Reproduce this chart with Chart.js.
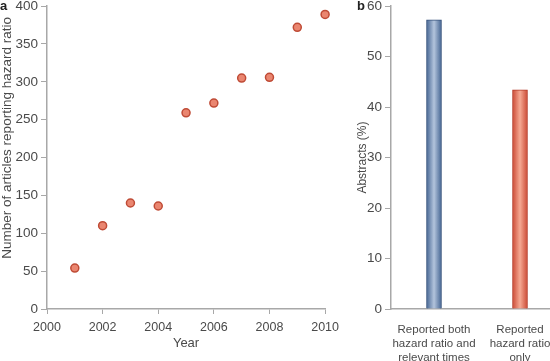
<!DOCTYPE html>
<html>
<head>
<meta charset="utf-8">
<script src="https://cdn.jsdelivr.net/npm/chart.js@4"></script>
<style>
  html, body { margin: 0; padding: 0; background: #fff; overflow: hidden; }
  body { width: 550px; height: 361px; position: relative; font-family: "Liberation Sans", Arial, sans-serif; }
  .wrap { position: absolute; top: -5px; height: 366px; }
  .panel { position: absolute; top: -2px; font-weight: bold; font-size: 13px; color: #222; }
</style>
</head>
<body>
<div class="wrap" style="left:0;width:345px"><canvas id="chartA"></canvas></div>
<div class="wrap" style="left:355px;width:208px"><canvas id="chartB"></canvas></div>
<div class="panel" style="left:0px">a</div>
<div class="panel" style="left:357px">b</div>
<script>
// panel a: articles reporting hazard ratio per year
const years = [2001, 2002, 2003, 2004, 2005, 2006, 2007, 2008, 2009, 2010];
const articles = [54, 110, 140, 136, 259, 272, 305, 306, 372, 389];

// panel b: abstracts (%)
const abstractLabels = [
  ['Reported both', 'hazard ratio and', 'relevant times'],
  ['Reported', 'hazard ratio', 'only']
];
const abstractValues = [57.3, 43.4];

const axisColor = '#a8a8a8';
const textColor = '#4a4a4a';
Chart.defaults.font.family = '"Liberation Sans", Arial, sans-serif';
Chart.defaults.font.size = 13;
Chart.defaults.color = textColor;

// y title of panel a sits a bit above the axis middle, so draw it by hand
const sideTitle = {
  id: 'sideTitle',
  afterDraw(chart, args, opts) {
    if (!opts.text) return;
    const c = chart.ctx;
    const area = chart.chartArea;
    c.save();
    c.font = opts.size + 'px "Liberation Sans", Arial, sans-serif';
    c.fillStyle = textColor;
    c.textAlign = 'center';
    c.textBaseline = 'middle';
    c.translate(opts.x, area.top + (area.bottom - area.top) * opts.pos);
    c.rotate(-Math.PI / 2);
    c.fillText(opts.text, 0, 0);
    c.restore();
  }
};

const ctxA = document.getElementById('chartA').getContext('2d');
const chartA = new Chart(ctxA, {
  type: 'scatter',
  data: {
    datasets: [{
      data: years.map((y, i) => ({ x: y, y: articles[i] })),
      backgroundColor: '#ea8670',
      borderColor: '#bf4b36',
      borderWidth: 1.5,
      pointRadius: 4,
      pointHoverRadius: 4,
      clip: false
    }]
  },
  plugins: [sideTitle],
  options: {
    responsive: true,
    maintainAspectRatio: false,
    animation: false,
    layout: { padding: { top: 0, right: 18, left: 0, bottom: 6 } },
    plugins: {
      legend: { display: false },
      tooltip: { enabled: false },
      sideTitle: { text: 'Number of articles reporting hazard ratio', size: 13.5, x: 7, pos: 0.435 }
    },
    scales: {
      x: {
        type: 'linear',
        min: 2000,
        max: 2010,
        ticks: { stepSize: 2, padding: 6, color: textColor, font: { size: 12.5 }, callback: v => String(v) },
        grid: { drawOnChartArea: false, drawTicks: true, tickLength: 5, color: axisColor },
        border: { color: axisColor, width: 1.5 },
        title: { display: true, text: 'Year', color: textColor, padding: { top: 0 } },
        afterFit: s => { s.height = 46; }
      },
      y: {
        min: 0,
        max: 400,
        ticks: { stepSize: 50, padding: 3, color: textColor, font: { size: 13.5 } },
        grid: { drawOnChartArea: false, drawTicks: true, tickLength: 6, color: axisColor },
        border: { color: axisColor, width: 1.5 },
        afterFit: s => { s.width = 47; }
      }
    }
  }
});

function barGradient(ctx, edge, mid) {
  const chart = ctx.chart;
  const xs = chart.scales.x;
  if (!xs) return edge;
  const cx = xs.getPixelForValue(ctx.dataIndex);
  if (!isFinite(cx)) return edge;
  const g = chart.ctx.createLinearGradient(cx - 8, 0, cx + 8, 0);
  g.addColorStop(0, edge);
  g.addColorStop(0.5, mid);
  g.addColorStop(1, edge);
  return g;
}

const barEdges = ['#3e5f8e', '#c9442f'];
const barMids = ['#b3c4dc', '#f5a993'];

const ctxB = document.getElementById('chartB').getContext('2d');
const chartB = new Chart(ctxB, {
  type: 'bar',
  data: {
    labels: abstractLabels,
    datasets: [{
      data: abstractValues,
      backgroundColor: c => barGradient(c, barEdges[c.dataIndex], barMids[c.dataIndex]),
      borderColor: ['#36527b', '#b23b28'],
      borderWidth: 1,
      borderSkipped: 'bottom',
      barThickness: 15
    }]
  },
  options: {
    responsive: true,
    maintainAspectRatio: false,
    animation: false,
    layout: { padding: { top: 0, right: 0, left: 0, bottom: 0 } },
    plugins: { legend: { display: false }, tooltip: { enabled: false } },
    scales: {
      x: {
        ticks: { padding: 6, color: textColor, maxRotation: 0, autoSkip: false, font: { size: 11.5, lineHeight: 1.2 } },
        grid: { display: false },
        border: { color: axisColor, width: 1.5 },
        afterFit: s => { s.height = 52; }
      },
      y: {
        min: 0,
        max: 60,
        ticks: { stepSize: 10, padding: 3, color: textColor, font: { size: 13.5 } },
        grid: { drawOnChartArea: false, drawTicks: true, tickLength: 6, color: axisColor },
        border: { color: axisColor, width: 1.5 },
        title: { display: true, text: 'Abstracts (%)', color: textColor, font: { size: 12 }, padding: 0 },
        afterFit: s => { s.width = 36; }
      }
    }
  }
});
</script>
</body>
</html>
